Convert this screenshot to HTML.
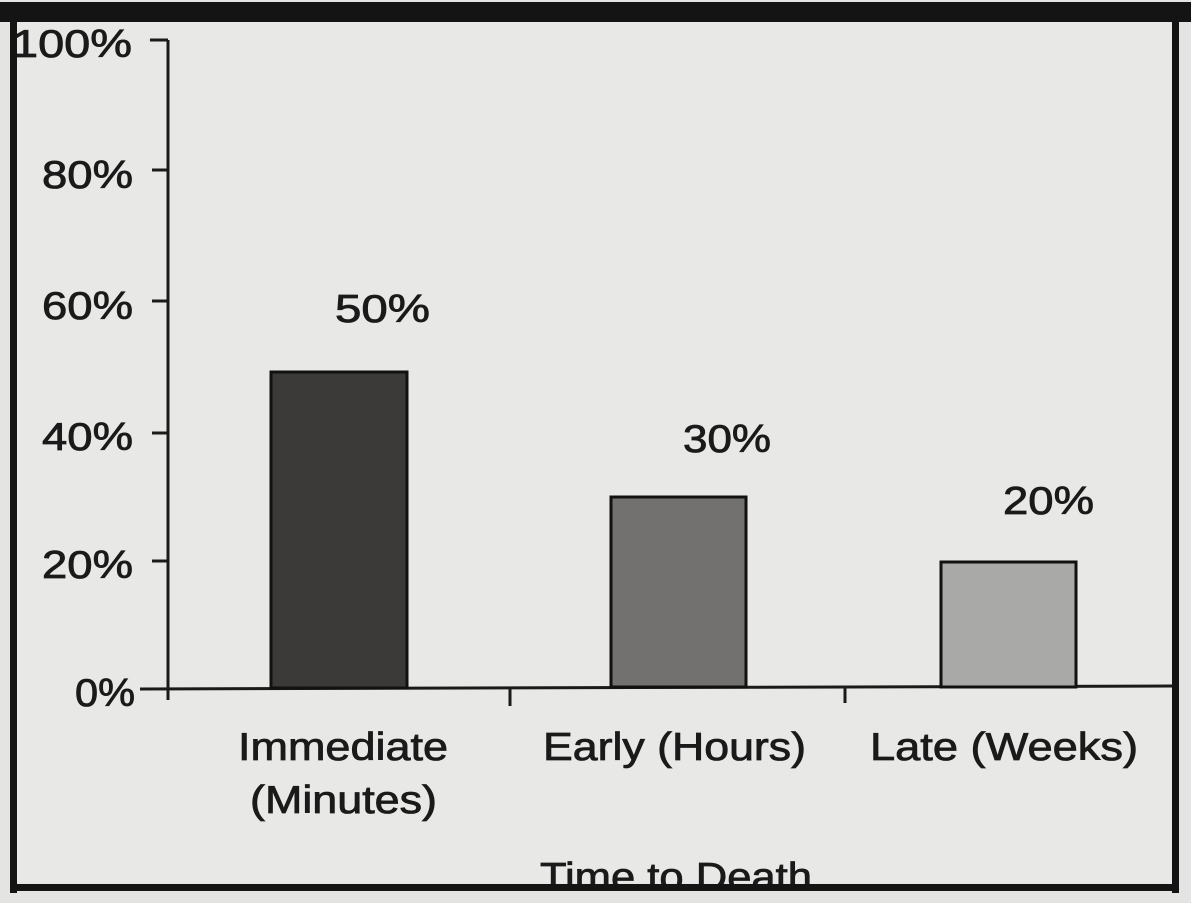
<!DOCTYPE html>
<html><head><style>
body{margin:0;background:#e4e4e2;}
svg{display:block}
text{font-family:"Liberation Sans",Arial,sans-serif;fill:#1a1a1a;stroke:#1a1a1a;stroke-width:0.8}
</style></head><body>
<svg width="1191" height="903" viewBox="0 0 1191 903">
<rect width="1191" height="903" fill="#e4e4e2"/>
<rect x="17" y="22" width="1155" height="861" fill="#e8e8e6"/>
<g stroke="#1a1a1a" stroke-width="3" fill="none">
<line x1="168" y1="40" x2="168" y2="700"/>
<line x1="150" y1="40" x2="168" y2="40"/>
<line x1="152" y1="170" x2="168" y2="170"/>
<line x1="152" y1="301" x2="168" y2="301"/>
<line x1="152" y1="433" x2="168" y2="433"/>
<line x1="152" y1="561" x2="168" y2="561"/>
<line x1="140" y1="689" x2="1172" y2="686"/>
<line x1="510" y1="688" x2="510" y2="706"/>
<line x1="845" y1="687" x2="845" y2="703"/>
</g>
<g stroke="#111" stroke-width="3">
<rect x="271" y="372" width="136" height="316" fill="#3b3a38"/>
<rect x="611" y="497" width="135" height="190" fill="#727170"/>
<rect x="941" y="562" width="135" height="125" fill="#a9a9a7"/>
</g>
<g font-size="39">
<text x="12" y="57" textLength="120" lengthAdjust="spacingAndGlyphs">100%</text>
<text x="42" y="188" textLength="91" lengthAdjust="spacingAndGlyphs">80%</text>
<text x="42" y="319" textLength="91" lengthAdjust="spacingAndGlyphs">60%</text>
<text x="42" y="450" textLength="91" lengthAdjust="spacingAndGlyphs">40%</text>
<text x="42" y="578" textLength="91" lengthAdjust="spacingAndGlyphs">20%</text>
<text x="75" y="706" textLength="60" lengthAdjust="spacingAndGlyphs">0%</text>
<text x="335" y="322" textLength="95" lengthAdjust="spacingAndGlyphs">50%</text>
<text x="683" y="452" textLength="88" lengthAdjust="spacingAndGlyphs">30%</text>
<text x="1003" y="514" textLength="91" lengthAdjust="spacingAndGlyphs">20%</text>
<text x="238" y="760" textLength="210" lengthAdjust="spacingAndGlyphs">Immediate</text>
<text x="250" y="813" textLength="187" lengthAdjust="spacingAndGlyphs">(Minutes)</text>
<text x="543" y="760" textLength="263" lengthAdjust="spacingAndGlyphs">Early (Hours)</text>
<text x="870" y="760" textLength="268" lengthAdjust="spacingAndGlyphs">Late (Weeks)</text>
<text x="540" y="890" textLength="272" lengthAdjust="spacingAndGlyphs">Time to Death</text>
</g>
<rect x="0" y="2" width="1191" height="20" fill="#141414"/>
<rect x="10" y="15" width="7" height="878" fill="#141414"/>
<rect x="1172" y="15" width="7" height="878" fill="#141414"/>
<rect x="10" y="884" width="1169" height="7" fill="#141414"/>
</svg>
</body></html>
